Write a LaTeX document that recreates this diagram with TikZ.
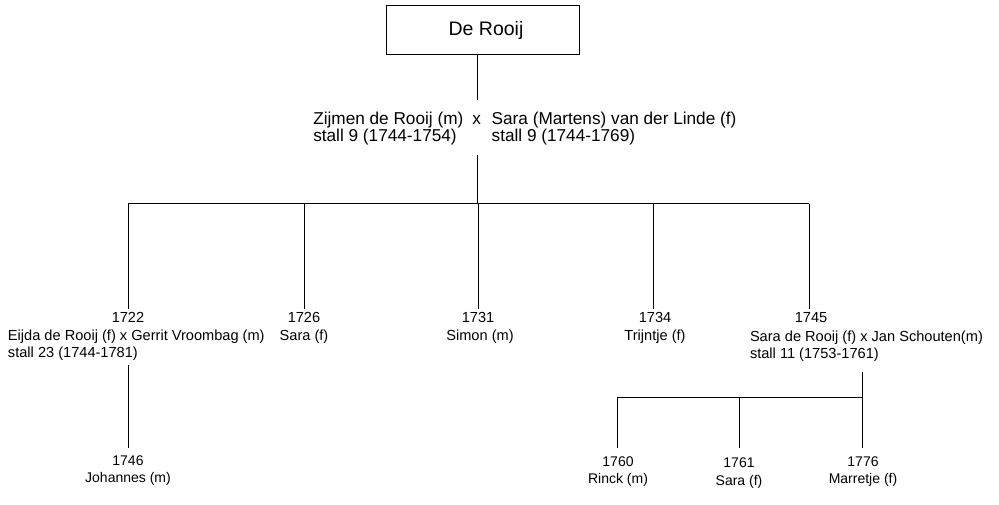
\documentclass[tikz,border=0pt]{standalone}
\usepackage{fontspec}
\setmainfont{Liberation Sans}
\begin{document}
\begin{tikzpicture}[x=1pt,y=-1pt,
  every node/.style={inner sep=0pt, outer sep=0pt},
  titlebox/.style={draw, line width=1pt, minimum width=193pt, minimum height=49pt,
    font=\fontsize{19.5}{22}\selectfont},
  parent/.style={font=\fontsize{17.2}{17}\selectfont},
  mid/.style={font=\fontsize{14.6}{17}\selectfont},
  low/.style={font=\fontsize{14}{17}\selectfont},
  link/.style={line width=1pt}]
\useasboundingbox (0,0) rectangle (999,505);

% family name
\node[titlebox] (title) at (482.5,30.5) {\hspace{7pt}De Rooij};

% founding couple
\node[parent, anchor=base west] (zijmen)  at (313.3,125) {Zijmen de Rooij (m)};
\node[parent, anchor=base]      (x0)      at (476.7,125) {x};
\node[parent, anchor=base west] (sara0)   at (491.7,125) {Sara (Martens) van der Linde (f)};
\node[parent, anchor=base west] (zstall)  at (313.3,142) {stall 9 (1744-1754)};
\node[parent, anchor=base west] (sstall)  at (491.7,142) {stall 9 (1744-1769)};

% children
\node[mid, anchor=base]      (y1722) at (128,323)   {1722};
\node[mid, anchor=base west] (eijda) at (8,340.5)   {Eijda de Rooij (f) x Gerrit Vroombag (m)};
\node[mid, anchor=base west] (est)   at (8,357)     {stall 23 (1744-1781)};

\node[mid, anchor=base] (y1726) at (304,323)   {1726};
\node[mid, anchor=base] (sara1) at (304,340.5) {Sara (f)};

\node[mid, anchor=base] (y1731) at (478,323)   {1731};
\node[mid, anchor=base] (simon) at (480,340.5) {Simon (m)};

\node[mid, anchor=base] (y1734) at (655,323)   {1734};
\node[mid, anchor=base] (trijn) at (655,340.5) {Trijntje (f)};

\node[mid, anchor=base]      (y1745) at (811,322)   {1745};
\node[mid, anchor=base west] (sara2) at (750,341)   {Sara de Rooij (f) x Jan Schouten(m)};
\node[mid, anchor=base west] (sst)   at (750,358)   {stall 11 (1753-1761)};

% grandchildren
\node[low, anchor=base] (y1746) at (128,465.7) {1746};
\node[low, anchor=base] (johan) at (128,482.3) {Johannes (m)};

\node[low, anchor=base] (y1760) at (618,466.5) {1760};
\node[low, anchor=base] (rinck) at (618,483.3) {Rinck (m)};

\node[low, anchor=base] (y1761) at (739,467.5) {1761};
\node[low, anchor=base] (sara3) at (739,485)   {Sara (f)};

\node[low, anchor=base] (y1776) at (863,466)   {1776};
\node[low, anchor=base] (marr)  at (863,483.3) {Marretje (f)};

% line ends
\coordinate (pA)  at (477,100);
\coordinate (pB)  at (477,155);
\coordinate (bar) at (477,204);
\coordinate (c1) at (128,309);
\coordinate (c2) at (304,309);
\coordinate (c3) at (478,309);
\coordinate (c4) at (653,309);
\coordinate (c5) at (809,309);

\coordinate (e1) at (128,365);
\coordinate (e2) at (128,448);

\coordinate (s1)   at (862,372);
\coordinate (sbar) at (862,397);
\coordinate (g1) at (617,448);
\coordinate (g2) at (739,448);
\coordinate (g3) at (862,448);

% connectors
\draw[link] (title.south -| pA) -- (pA);
\draw[link] (pB) -- (bar);
\draw[link] (c1 |- bar) -- (c5 |- bar);
\foreach \c in {c1,c2,c3,c4,c5} \draw[link] (\c |- bar) -- (\c);

\draw[link] (e1) -- (e2);

\draw[link] (s1) -- (g3);
\draw[link] (g1 |- sbar) -- (sbar);
\draw[link] (g1 |- sbar) -- (g1);
\draw[link] (g2 |- sbar) -- (g2);
\end{tikzpicture}
\end{document}
